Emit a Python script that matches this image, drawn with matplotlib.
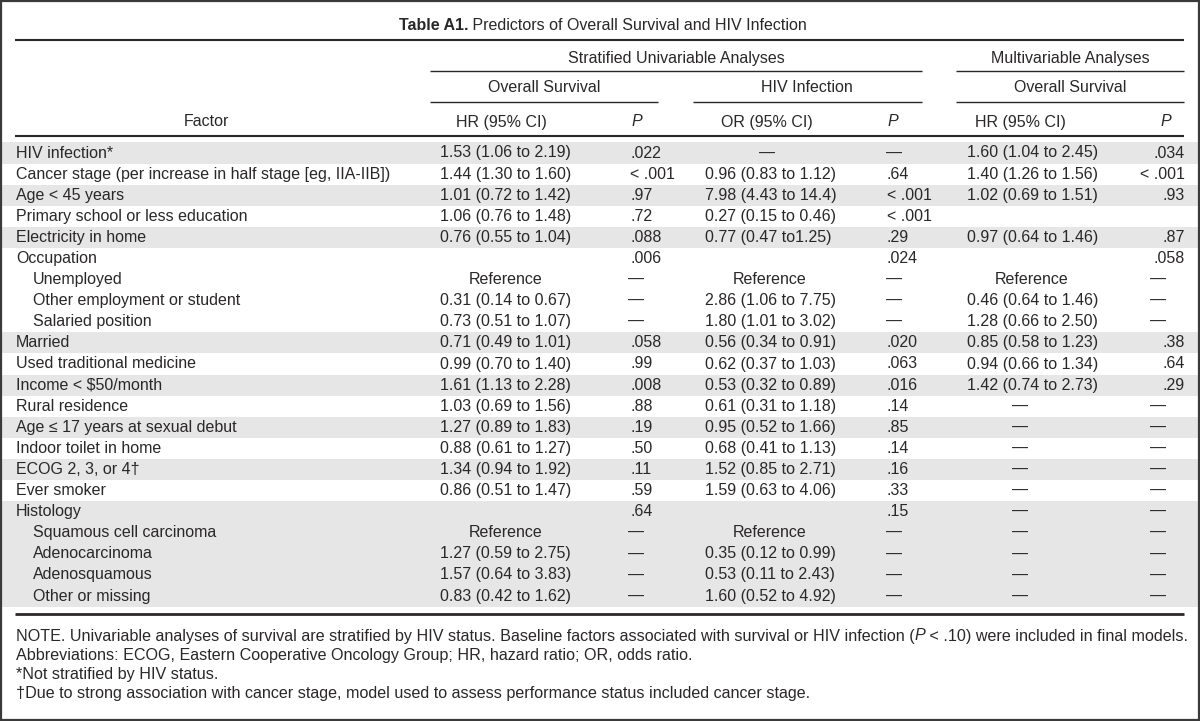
import matplotlib
matplotlib.use("Agg")
import matplotlib.pyplot as plt
from matplotlib.patches import Rectangle

plt.rcParams['font.family'] = ['Liberation Sans', 'DejaVu Sans']

# ---- table content ----
factors = [
    "HIV infection*",
    "Cancer stage (per increase in half stage [eg, IIA-IIB])",
    "Age < 45 years",
    "Primary school or less education",
    "Electricity in home",
    "Occupation",
    "Unemployed",
    "Other employment or student",
    "Salaried position",
    "Married",
    "Used traditional medicine",
    "Income < $50/month",
    "Rural residence",
    "Age \u2264 17 years at sexual debut",
    "Indoor toilet in home",
    "ECOG 2, 3, or 4\u2020",
    "Ever smoker",
    "Histology",
    "Squamous cell carcinoma",
    "Adenocarcinoma",
    "Adenosquamous",
    "Other or missing",
]
is_sub = [0, 0, 0, 0, 0, 0, 1, 1, 1, 0, 0, 0, 0, 0, 0, 0, 0, 0, 1, 1, 1, 1]

D = "\u2014"
os_hr = ["1.53 (1.06 to 2.19)", "1.44 (1.30 to 1.60)", "1.01 (0.72 to 1.42)",
         "1.06 (0.76 to 1.48)", "0.76 (0.55 to 1.04)", "", "Reference",
         "0.31 (0.14 to 0.67)", "0.73 (0.51 to 1.07)", "0.71 (0.49 to 1.01)",
         "0.99 (0.70 to 1.40)", "1.61 (1.13 to 2.28)", "1.03 (0.69 to 1.56)",
         "1.27 (0.89 to 1.83)", "0.88 (0.61 to 1.27)", "1.34 (0.94 to 1.92)",
         "0.86 (0.51 to 1.47)", "", "Reference", "1.27 (0.59 to 2.75)",
         "1.57 (0.64 to 3.83)", "0.83 (0.42 to 1.62)"]
os_p = [".022", "< .001", ".97", ".72", ".088", ".006", D, D, D, ".058", ".99",
        ".008", ".88", ".19", ".50", ".11", ".59", ".64", D, D, D, D]
hiv_or = [D, "0.96 (0.83 to 1.12)", "7.98 (4.43 to 14.4)", "0.27 (0.15 to 0.46)",
          "0.77 (0.47 to1.25)", "", "Reference", "2.86 (1.06 to 7.75)",
          "1.80 (1.01 to 3.02)", "0.56 (0.34 to 0.91)", "0.62 (0.37 to 1.03)",
          "0.53 (0.32 to 0.89)", "0.61 (0.31 to 1.18)", "0.95 (0.52 to 1.66)",
          "0.68 (0.41 to 1.13)", "1.52 (0.85 to 2.71)", "1.59 (0.63 to 4.06)", "",
          "Reference", "0.35 (0.12 to 0.99)", "0.53 (0.11 to 2.43)",
          "1.60 (0.52 to 4.92)"]
hiv_p = [D, ".64", "< .001", "< .001", ".29", ".024", D, D, D, ".020", ".063",
         ".016", ".14", ".85", ".14", ".16", ".33", ".15", D, D, D, D]
mv_hr = ["1.60 (1.04 to 2.45)", "1.40 (1.26 to 1.56)", "1.02 (0.69 to 1.51)", "",
         "0.97 (0.64 to 1.46)", "", "Reference", "0.46 (0.64 to 1.46)",
         "1.28 (0.66 to 2.50)", "0.85 (0.58 to 1.23)", "0.94 (0.66 to 1.34)",
         "1.42 (0.74 to 2.73)", D, D, D, D, D, D, D, D, D, D]
mv_p = [".034", "< .001", ".93", "", ".87", ".058", D, D, D, ".38", ".64", ".29",
        D, D, D, D, D, D, D, D, D, D]

notes = [
    [("NOTE. Univariable analyses of survival are stratified by HIV status. Baseline "
      "factors associated with survival or HIV infection (", "normal"),
     ("P", "italic"), (" < .10) were included in final models.", "normal")],
    [("Abbreviations: ECOG, Eastern Cooperative Oncology Group; HR, hazard ratio; "
      "OR, odds ratio.", "normal")],
    [("*Not stratified by HIV status.", "normal")],
    [("\u2020Due to strong association with cancer stage, model used to assess "
      "performance status included cancer stage.", "normal")],
]

# ---- canvas in pixel units ----
W, H = 1200, 721
fig = plt.figure(figsize=(W / 100, H / 100), dpi=100)
ax = fig.add_axes([0, 0, 1, 1])
ax.set_xlim(0, W)
ax.set_ylim(H, 0)
ax.axis('off')
renderer = fig.canvas.get_renderer()

ink = '#2a2728'
fs = 11.5
row0, pitch = 153, 21.1
xl, xr = 15, 1184


def seg_width(s, size, style='normal', weight='normal', family=None):
    kw = dict(fontsize=size, fontstyle=style, fontweight=weight)
    if family:
        kw['family'] = family
    t1 = ax.text(0, 0, s + '|', **kw)
    t2 = ax.text(0, 0, '|', **kw)
    w = t1.get_window_extent(renderer).width - t2.get_window_extent(renderer).width
    t1.remove()
    t2.remove()
    return w


def draw_segments(x, y, segs, size, family=None, center=False):
    widths = []
    for s, st in segs:
        if st == 'bold':
            widths.append(seg_width(s, size, weight='bold', family=family))
        else:
            widths.append(seg_width(s, size, style=st, family=family))
    if center:
        x = x - sum(widths) / 2
    for (s, st), w in zip(segs, widths):
        kw = dict(fontsize=size, color=ink, va='center', ha='left')
        if family:
            kw['family'] = family
        if st == 'bold':
            kw['fontweight'] = 'bold'
        else:
            kw['fontstyle'] = st
        ax.text(x, y, s, **kw)
        x += w
    return sum(widths)


# border
ax.add_patch(Rectangle((1, 1), W - 2, H - 2, fill=False, ec='#3a3a3a', lw=1.6, zorder=5))

# row shading by factor group
group = -1
for i, sub in enumerate(is_sub):
    if not sub:
        group += 1
    if group % 2 == 0:
        yc = row0 + i * pitch
        ax.add_patch(Rectangle((2, yc - pitch / 2), W - 4, pitch,
                               color='#e6e6e6', lw=0, zorder=0))

# title
draw_segments(603, 26, [("Table A1.", 'bold'),
                        (" Predictors of Overall Survival and HIV Infection", 'normal')],
              fs, center=True)

# rules
ax.hlines(40, xl, xr, color=ink, lw=1.5)
ax.hlines([71, 71], [430, 956], [922, xr], color=ink, lw=1.0)
ax.hlines([102, 102, 102], [430, 693, 956], [658, 922, xr], color=ink, lw=1.0)
ax.hlines(136, xl, xr, color=ink, lw=1.5)
ax.hlines(614, xl, xr, color=ink, lw=2.0)

# spanning headers
ax.text(676, 58, "Stratified Univariable Analyses", fontsize=fs, color=ink, ha='center', va='center')
ax.text(1070, 58, "Multivariable Analyses", fontsize=fs, color=ink, ha='center', va='center')
for xc, s in [(544, "Overall Survival"), (807, "HIV Infection"), (1070, "Overall Survival")]:
    ax.text(xc, 88, s, fontsize=fs, color=ink, ha='center', va='center')

# column headers
ax.text(206, 122, "Factor", fontsize=fs, color=ink, ha='center', va='center')
for xc, s in [(501, "HR (95% CI)"), (767, "OR (95% CI)"), (1020, "HR (95% CI)")]:
    ax.text(xc, 122, s, fontsize=fs, color=ink, ha='center', va='center')
for xc in [637, 893, 1166]:
    ax.text(xc, 122, "P", fontsize=fs, color=ink, ha='center', va='center', fontstyle='italic')

# body
est_cols = [(os_hr, 440, 506, 506), (hiv_or, 705, 770, 767), (mv_hr, 967, 1032, 1020)]
p_cols = [(os_p, 630, 'left', 636), (hiv_p, 887, 'left', 894), (mv_p, 1185, 'right', 1158)]

for i, name in enumerate(factors):
    yc = row0 + i * pitch
    ax.text(33 if is_sub[i] else 16, yc, name, fontsize=fs, color=ink, va='center', ha='left')
    for vals, x_left, x_ref, x_dash in est_cols:
        v = vals[i]
        if not v:
            continue
        if v == D:
            ax.text(x_dash, yc, v, fontsize=fs, color=ink, va='center', ha='center')
        elif v == "Reference":
            ax.text(x_ref, yc, v, fontsize=fs, color=ink, va='center', ha='center')
        else:
            ax.text(x_left, yc, v, fontsize=fs, color=ink, va='center', ha='left')
    for vals, xa, align, x_dash in p_cols:
        v = vals[i]
        if not v:
            continue
        if v == D:
            ax.text(x_dash, yc, v, fontsize=fs, color=ink, va='center', ha='center')
        else:
            ax.text(xa, yc, v, fontsize=fs, color=ink, va='center', ha=align)

# footnotes, sized so the first line spans the table width
note_family = ['Liberation Sans Narrow', 'Liberation Sans', 'DejaVu Sans']
trial = 10.0
w_trial = sum(seg_width(s, trial, style=st, family=note_family) for s, st in notes[0])
nfs = trial * (1172 / w_trial)
for k, segs in enumerate(notes):
    draw_segments(16, 636 + k * 19.3, segs, nfs, family=note_family)

fig.savefig("out.png", dpi=100)
